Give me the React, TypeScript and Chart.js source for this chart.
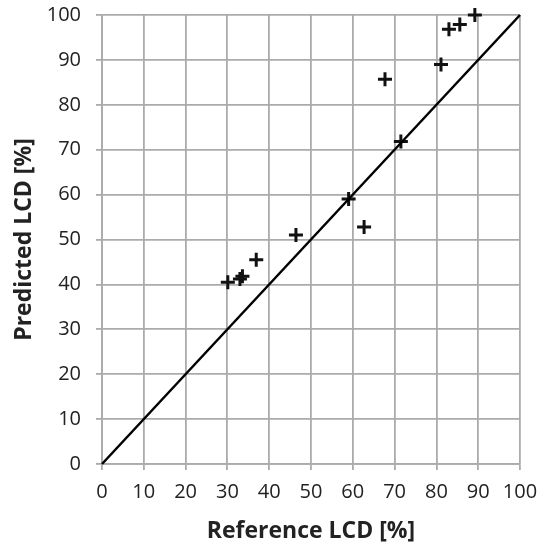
import React, { useEffect, useRef } from "react";
import { Chart, registerables } from "chart.js";

Chart.register(...registerables);

const referenceLCD = [89.2, 85.6, 83.0, 81.1, 67.7, 71.5, 59.0, 62.7, 46.4, 36.9, 33.6, 33.0, 30.1];
const predictedLCD = [100.0, 97.9, 96.8, 89.0, 85.7, 71.8, 59.0, 52.8, 51.0, 45.5, 41.8, 41.2, 40.5];
const identityX = [0, 100];
const identityY = [0, 100];
const axisTitleX = "Reference LCD [%]";
const axisTitleY = "Predicted LCD [%]";

export default function App() {
  const ref = useRef<HTMLCanvasElement | null>(null);
  useEffect(() => {
    document.body.style.margin = "0";
    const ctx = ref.current!;
    const font = "'Open Sans', 'DejaVu Sans', sans-serif";
    const chart = new Chart(ctx, {
      type: "scatter",
      data: {
        datasets: [
          {
            type: "line",
            data: identityX.map((x, i) => ({ x, y: identityY[i] })),
            borderColor: "#000000",
            borderWidth: 2.5,
            pointRadius: 0,
            fill: false,
            clip: false,
          },
          {
            type: "scatter",
            data: referenceLCD.map((x, i) => ({ x, y: predictedLCD[i] })),
            pointStyle: "cross",
            pointRadius: 7,
            borderColor: "#111111",
            borderWidth: 3,
            backgroundColor: "#111111",
            clip: false,
          },
        ],
      },
      options: {
        animation: false,
        responsive: false,
        maintainAspectRatio: false,
        layout: { padding: { left: 0, top: 15, right: 24, bottom: 0 } },
        plugins: { legend: { display: false }, tooltip: { enabled: false } },
        scales: {
          x: {
            type: "linear",
            min: 0,
            max: 100,
            ticks: { stepSize: 10, color: "#222", font: { family: font, size: 20 }, padding: 10 },
            grid: { color: "#ababab", lineWidth: 1.8, tickLength: 6 },
            border: { color: "#ababab", width: 1.8 },
            title: { display: true, text: axisTitleX, color: "#222", font: { family: font, size: 23, weight: "bold" }, padding: { top: 0, bottom: 2 } },
            afterFit: (s: any) => { s.height = 83; s.paddingLeft = 0; s.paddingRight = 0; },
          },
          y: {
            type: "linear",
            min: 0,
            max: 100,
            ticks: { stepSize: 10, color: "#222", font: { family: font, size: 20 }, padding: 15 },
            grid: { color: "#ababab", lineWidth: 1.8, tickLength: 6 },
            border: { color: "#ababab", width: 1.8 },
            title: { display: true, text: axisTitleY, color: "#222", font: { family: font, size: 23, weight: "bold" }, padding: { top: 11, bottom: 0 } },
            afterFit: (s: any) => { s.width = 102; s.paddingTop = 0; s.paddingBottom = 0; },
          },
        },
      },
    });
    return () => chart.destroy();
  }, []);
  return (
    <div style={{ width: 544, height: 547 }}>
      <canvas ref={ref} width={544} height={547} style={{ width: 544, height: 547 }} />
    </div>
  );
}
